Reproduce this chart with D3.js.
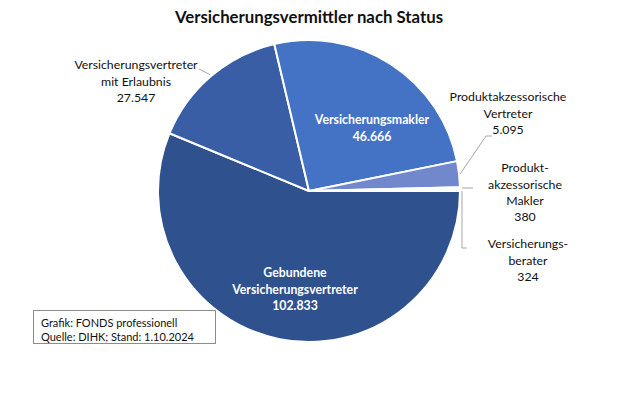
<!DOCTYPE html>
<html><head><meta charset="utf-8">
<script src="https://cdn.jsdelivr.net/npm/d3@7"></script>
<style>body{margin:0;background:#fff}svg{display:block}text{font-family:Lato,"Open Sans",sans-serif}</style>
</head><body><svg id="c" width="620" height="413"></svg>
<script>
const categories = ["Gebundene Versicherungsvertreter","Versicherungsvertreter mit Erlaubnis","Versicherungsmakler","Produktakzessorische Vertreter","Produktakzessorische Makler","Versicherungsberater"];
const values = [102833, 27547, 46666, 5095, 380, 324];
const valueLabels = ["102.833","27.547","46.666","5.095","380","324"];
const labelLines = [["Gebundene","Versicherungsvertreter"],["Versicherungsvertreter","mit Erlaubnis"],["Versicherungsmakler"],["Produktakzessorische","Vertreter"],["Produkt-","akzessorische","Makler"],["Versicherungs-","berater"]];
const colors = ["#2f528f","#395ea6","#4472c4","#7189cc","#8da0d6","#a9b7e0"];
const title = "Versicherungsvermittler nach Status";
const sourceLines = ["Grafik: FONDS professionell","Quelle: DIHK; Stand: 1.10.2024"];

const svg = d3.select("#c");
const cx = 309, cy = 191, R = 151;
svg.append("text").attr("x",309).attr("y",23).attr("text-anchor","middle")
  .attr("font-size",16.8).attr("font-weight","bold").attr("fill","#111").text(title);

const pie = d3.pie().sort(null).value(d=>d).startAngle(Math.PI/2).endAngle(Math.PI/2+2*Math.PI);
const arcs = pie(values);
const arc = d3.arc().innerRadius(0).outerRadius(R);
const g = svg.append("g").attr("transform",`translate(${cx},${cy})`);
g.selectAll("path").data(arcs).join("path").attr("d",arc)
  .attr("fill",(d,i)=>colors[i]).attr("stroke","#fff").attr("stroke-width",2).attr("stroke-linejoin","round");

const layout = [
  {x:295,y:273,inside:true},
  {x:136,y:65},
  {x:372,y:120,inside:true},
  {x:508,y:97},
  {x:525,y:168},
  {x:528,y:244}
];
const lh = 16.3;
layout.forEach((L,i)=>{
  const lines = labelLines[i].concat([valueLabels[i]]);
  const t = svg.append("text").attr("text-anchor","middle").attr("font-size",12.3)
    .attr("fill",L.inside?"#fff":"#111").attr("font-weight",L.inside?"bold":"normal");
  lines.forEach((s,k)=>t.append("tspan").attr("x",L.x).attr("y",L.y+k*lh).attr("dy","0.35em").text(s));
});
const pt = (i,r)=>{const a=(arcs[i].startAngle+arcs[i].endAngle)/2;return [cx+Math.sin(a)*r, cy-Math.cos(a)*r];};
const lead = svg.append("g").attr("fill","none").attr("stroke","#a6a6a6").attr("stroke-width",1);
const e1 = pt(1,R+2);
lead.append("path").attr("d",`M199,69L${e1[0]},${e1[1]}`);
const e3 = pt(3,R+1);
lead.append("path").attr("d",`M492,136L486,136L${e3[0]},${e3[1]}`);
const e4 = pt(4,R+1);
lead.append("path").attr("d",`M473,188L${e4[0]+1},188`);
const e5 = pt(5,R+1);
lead.append("path").attr("d",`M${e5[0]+1},${e5[1]+1}L${e5[0]+1},248L467,248`);

svg.append("rect").attr("x",33.5).attr("y",310.5).attr("width",182).attr("height",33)
  .attr("fill","#fff").attr("stroke","#8c8c8c").attr("stroke-width",1);
sourceLines.forEach((s,k)=>svg.append("text").attr("x",41).attr("y",323+k*14).attr("dy","0.35em")
  .attr("font-size",11).attr("fill","#111").text(s));
</script></body></html>
